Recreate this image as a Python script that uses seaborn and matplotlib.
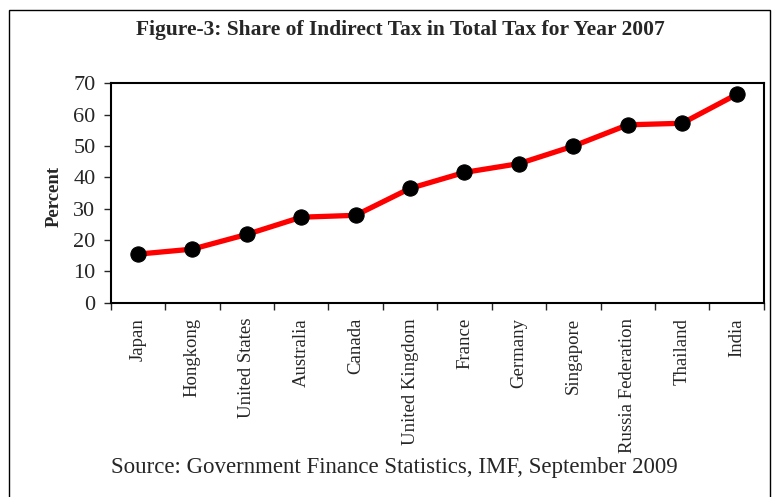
import numpy as np
import pandas as pd
import matplotlib.pyplot as plt
import seaborn as sns
from matplotlib.patches import Rectangle

plt.switch_backend("Agg")

countries = ["Japan", "Hongkong", "United States", "Australia", "Canada",
             "United Kingdom", "France", "Germany", "Singapore",
             "Russia Federation", "Thailand", "India"]
share = [15.5, 17.1, 21.8, 27.3, 27.9, 36.5, 41.6, 44.4, 50.0, 56.8, 57.3, 66.5]
y_ticks = [0, 10, 20, 30, 40, 50, 60, 70]

df = pd.DataFrame({"Country": countries, "Share": share})

sns.set_style("white")
plt.rcParams["font.family"] = ["Liberation Serif", "DejaVu Serif"]

fig = plt.figure(figsize=(7.77, 4.97), dpi=100)
ax = fig.add_axes([0.1425, 0.391, 0.8405, 0.441])

sns.lineplot(data=df, x="Country", y="Share", sort=False, ax=ax,
             color="#ff0000", lw=3.8, marker="o", markersize=11,
             markerfacecolor="black", markeredgecolor="black")

ax.set_xlim(-0.5, len(countries) - 0.5)
ax.set_ylim(0, 70)
ax.set_yticks(y_ticks)
ax.set_yticklabels([str(t) for t in y_ticks], fontsize=16)

ax.set_xticks(range(len(countries)))
ax.set_xticklabels(countries, rotation=90, fontsize=13.5)
ax.set_xticks(np.arange(-0.5, len(countries), 1.0), minor=True)
ax.tick_params(axis="x", which="major", length=0, pad=11)
ax.tick_params(axis="x", which="minor", length=5, width=1, direction="out", bottom=True)
ax.tick_params(axis="y", length=5, width=1, direction="out", left=True, pad=6)

for sp in ax.spines.values():
    sp.set_color("black")
    sp.set_linewidth(1.5)

ax.set_xlabel("")
ax.set_ylabel("Percent", fontsize=13.5, fontweight="bold")
ax.yaxis.set_label_coords(-0.073, 0.485)

fig.text(0.515, 0.94, "Figure-3: Share of Indirect Tax in Total Tax for Year 2007",
         ha="center", va="center", fontsize=15.5, fontweight="bold")
fig.text(0.508, 0.06, "Source: Government Finance Statistics, IMF, September 2009",
         ha="center", va="center", fontsize=16.5)

fig.patches.append(Rectangle((0.0116, -0.02), 0.979, 1.0, transform=fig.transFigure,
                             fill=False, edgecolor="black", lw=1, clip_on=False))

fig.savefig("out.png", dpi=100)
plt.close(fig)
